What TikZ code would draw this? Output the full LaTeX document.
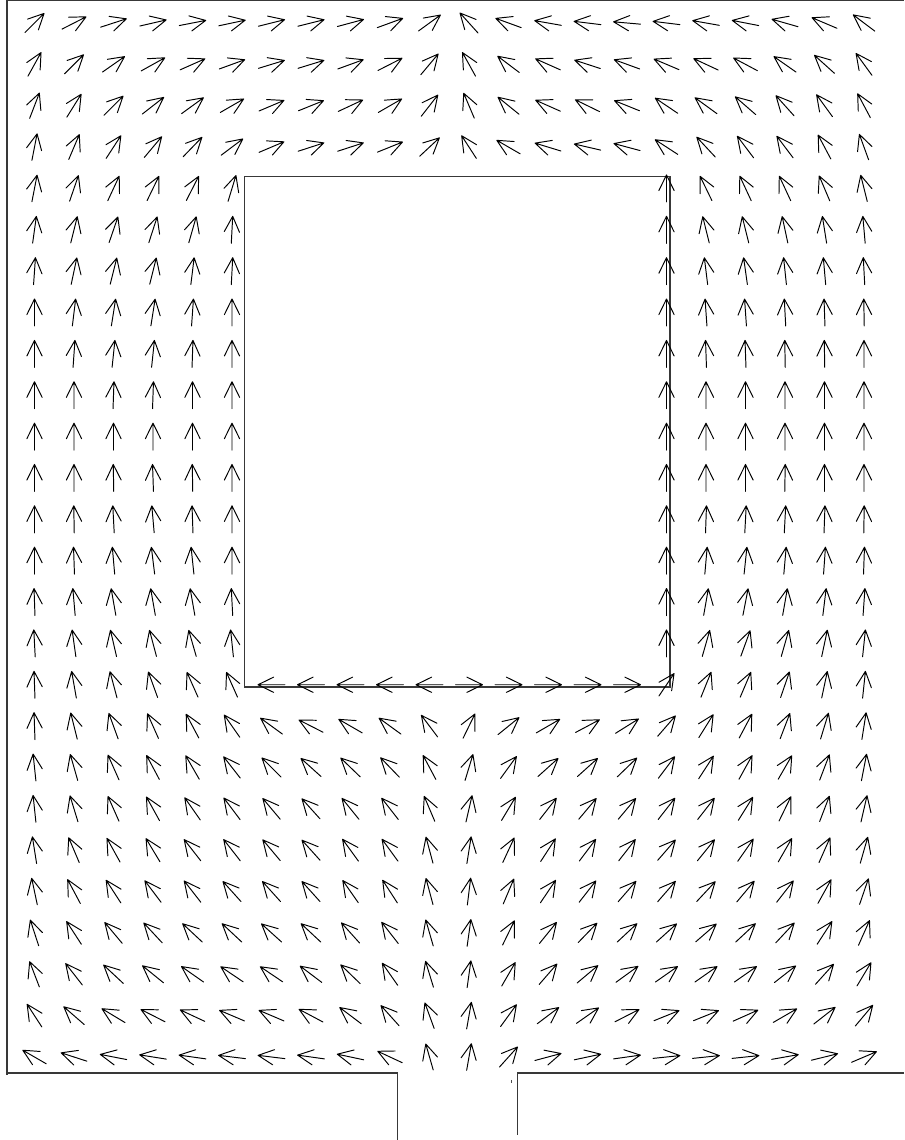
\documentclass[tikz,border=0pt]{standalone}
\newcommand\fieldrow[2]{%
  \foreach \a [count=\i from 0] in {#2} {%
    \ifnum\a<999
      \begin{scope}[shift={({34.5+39.5*\i},{1117-41.36*#1})}, rotate=\a]
        \draw[arr] (-13.5,0) -- (13.5,0) (-2.14,7.63) -- (13.5,0) -- (-2.14,-7.63);
      \end{scope}
    \fi
  }%
}
\begin{document}
\begin{tikzpicture}[x=0.02cm,y=0.02cm,
  arr/.style={line width=0.55pt, black, line cap=round, line join=round},
  wall/.style={line width=0.75pt, black!78}]
\useasboundingbox (0,0) rectangle (904,1140);
\fill[white] (0,0) rectangle (904,1140);
% outer walls (y measured upward: Y = 1140 - y)
\draw[wall] (7,1139.6) -- (904,1139.6);
\draw[wall] (7,1140) -- (7,64.5);
\draw[wall] (7,67) -- (397.7,67) -- (397.7,0);
\draw[wall] (904,67) -- (517.7,67) -- (517.7,5);
\draw[line width=0.4pt, black!70] (511.7,60) -- (511.7,57);
% obstacle
\draw[wall] (244.5,963.3) rectangle (670,453);
% vector field (angle in degrees, 999 = no arrow)
\fieldrow{0}{45,27,18,13,11,12,14,14,15,20,36,132,160,170,173,175,173,170,169,164,157,143}
\fieldrow{1}{61,45,35,29,24,20,17,17,20,27,50,119,143,156,162,160,157,155,152,145,138,126}
\fieldrow{2}{69,58,45,38,36,30,23,22,25,30,52,113,141,156,154,158,146,144,139,132,126,118}
\fieldrow{3}{79,67,57,50,46,37,23,18,18,22,43,123,150,163,167,165,147,133,127,127,118,110}
\fieldrow{4}{79,71,65,64,63,73,999,999,999,999,999,999,999,999,999,999,90,116,115,115,113,104}
\fieldrow{5}{82,76,71,72,74,87,999,999,999,999,999,999,999,999,999,999,90,104,104,102,99,95}
\fieldrow{6}{86,78,76,76,83,87,999,999,999,999,999,999,999,999,999,999,90,97,98,96,95,93}
\fieldrow{7}{90,83,81,81,86,90,999,999,999,999,999,999,999,999,999,999,90,94,94,93,92,91}
\fieldrow{8}{90,86,84,84,88,90,999,999,999,999,999,999,999,999,999,999,90,92,92,91,91,90}
\fieldrow{9}{90,90,88,88,90,90,999,999,999,999,999,999,999,999,999,999,90,90,90,90,90,90}
\fieldrow{10}{90,90,90,90,90,90,999,999,999,999,999,999,999,999,999,999,90,90,90,90,90,90}
\fieldrow{11}{90,90,91,92,91,90,999,999,999,999,999,999,999,999,999,999,90,90,90,89,90,90}
\fieldrow{12}{90,91,93,95,92,90,999,999,999,999,999,999,999,999,999,999,90,88,87,87,88,89}
\fieldrow{13}{90,92,95,97,96,90,999,999,999,999,999,999,999,999,999,999,90,85,84,85,86,88}
\fieldrow{14}{92,95,100,100,100,93,999,999,999,999,999,999,999,999,999,999,90,80,79,80,83,86}
\fieldrow{15}{93,98,103,105,106,96,999,999,999,999,999,999,999,999,999,999,90,74,70,74,78,84}
\fieldrow{16}{92,100,105,110,114,114,180,180,180,180,180,0,0,0,0,0,56,68,67,71,78,84}
\fieldrow{17}{92,104,110,114,118,125,144,153,150,144,127,64,39,30,28,32,49,58,62,69,73,81}
\fieldrow{18}{96,106,114,118,120,128,135,138,136,134,118,73,54,42,42,44,53,57,61,60,69,79}
\fieldrow{19}{96,107,114,119,125,127,130,132,129,128,113,77,59,52,50,50,52,52,58,64,69,77}
\fieldrow{20}{99,113,119,121,128,128,130,132,126,126,105,81,65,57,53,52,49,51,55,60,66,74}
\fieldrow{21}{102,118,123,127,128,132,132,132,125,123,105,83,67,56,52,49,49,47,50,52,61,71}
\fieldrow{22}{108,123,130,133,137,137,138,137,132,128,106,82,64,51,46,43,42,41,43,47,57,66}
\fieldrow{23}{111,128,137,141,145,146,146,143,136,125,107,82,60,49,40,36,35,35,35,38,48,59}
\fieldrow{24}{123,139,149,153,155,157,157,152,143,132,110,80,54,37,35,27,22,22,24,30,38,50}
\fieldrow{25}{150,162,169,171,172,173,173,172,168,155,106,80,48,15,12,8,6,6,6,10,14,23}
\end{tikzpicture}
\end{document}
